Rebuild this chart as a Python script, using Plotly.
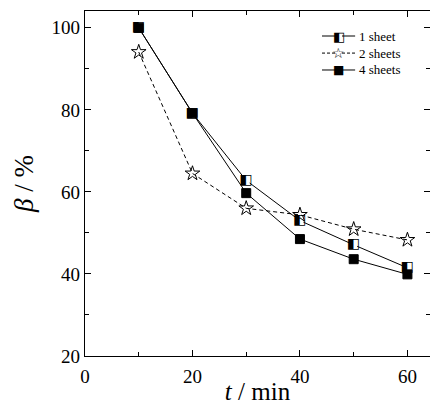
import plotly.graph_objects as go

# Time points (min) and retention beta (%) for each sheet count
t_min = [10, 20, 30, 40, 50, 60]
beta_1_sheet = [100, 79.2, 62.8, 53.0, 47.1, 41.5]
beta_2_sheets = [94.1, 64.5, 56.0, 54.4, 50.9, 48.3]
beta_4_sheets = [100, 79.2, 59.7, 48.5, 43.6, 39.9]

series_names = ["1 sheet", "2 sheets", "4 sheets"]
x_ticks = [0, 20, 40, 60]
y_ticks = [20, 40, 60, 80, 100]

FONT = "Liberation Serif, Times New Roman, serif"
GLYPH_FONT = "DejaVu Sans"
HALF_SQUARE = "\u25e7"   # square with left half black
STAR_OPEN = "\u2606"
SQUARE_FILLED = "\u25a0"

fig = go.Figure()

# 1 sheet: line plus white square base, half-black glyph drawn on top
fig.add_trace(go.Scatter(
    x=t_min, y=beta_1_sheet, name=series_names[0], mode="lines+markers",
    line=dict(color="black", width=1),
    marker=dict(symbol="square", size=7, color="white", line=dict(width=0)),
    showlegend=False,
))
fig.add_trace(go.Scatter(
    x=t_min, y=beta_1_sheet, mode="text", text=[HALF_SQUARE] * len(t_min),
    textposition="middle center",
    textfont=dict(family=GLYPH_FONT, size=14, color="black"),
    showlegend=False, hoverinfo="skip",
))
fig.add_trace(go.Scatter(
    x=t_min, y=beta_2_sheets, name=series_names[1], mode="lines+markers",
    line=dict(color="black", width=1, dash="4px,3px"),
    marker=dict(symbol="star-open", size=11, color="black",
                line=dict(color="black", width=1)),
    showlegend=False,
))
fig.add_trace(go.Scatter(
    x=t_min, y=beta_4_sheets, name=series_names[2], mode="lines+markers",
    line=dict(color="black", width=1),
    marker=dict(symbol="square", size=9, color="black",
                line=dict(color="black", width=1)),
    showlegend=False,
))

axis_common = dict(
    showline=True, linecolor="black", linewidth=1.2, mirror="ticks",
    ticks="inside", ticklen=6, tickwidth=1, tickcolor="black",
    showgrid=False, zeroline=False, automargin=False,
    tickfont=dict(family=FONT, size=19, color="black"),
)

fig.update_xaxes(
    range=[0, 64.2], tickvals=x_ticks,
    minor=dict(dtick=10, tick0=0, ticks="inside", ticklen=4, tickcolor="black"),
    title=dict(text="<i>t</i> / min", font=dict(family=FONT, size=25, color="black"),
               standoff=7),
    ticklabelstandoff=3,
    **axis_common,
)
fig.update_yaxes(
    range=[20, 104.1], tickvals=y_ticks,
    minor=dict(dtick=10, tick0=0, ticks="inside", ticklen=4, tickcolor="black"),
    title=dict(text="<i>β</i> / %", font=dict(family=FONT, size=27, color="black"),
               standoff=10),
    **axis_common,
)

# Legend key drawn in paper coordinates: sample line, symbol, label
legend_rows = [0.9275, 0.878, 0.829]
legend_dash = ["solid", "3px,2px", "solid"]
legend_glyph = [HALF_SQUARE, STAR_OPEN, SQUARE_FILLED]
legend_glyph_size = [13, 14, 12]
line_x0, line_x1, glyph_x, label_x = 0.687, 0.783, 0.735, 0.788

shapes = []
annotations = []
for row_y, dash, glyph, gsize, name in zip(legend_rows, legend_dash, legend_glyph,
                                          legend_glyph_size, series_names):
    shapes.append(dict(type="line", xref="paper", yref="paper",
                       x0=line_x0, x1=line_x1, y0=row_y, y1=row_y,
                       line=dict(color="black", width=1, dash=dash)))
    shapes.append(dict(type="rect", xref="paper", yref="paper",
                       x0=glyph_x - 0.01, x1=glyph_x + 0.01,
                       y0=row_y - 0.01, y1=row_y + 0.01,
                       fillcolor="white", line=dict(width=0)))
    annotations.append(dict(text=glyph, xref="paper", yref="paper",
                            x=glyph_x, y=row_y, xanchor="center", yanchor="middle",
                            showarrow=False,
                            font=dict(family=GLYPH_FONT, size=gsize, color="black")))
    annotations.append(dict(text=name, xref="paper", yref="paper",
                            x=label_x, y=row_y, xanchor="left", yanchor="middle",
                            showarrow=False,
                            font=dict(family=FONT, size=13, color="black")))

fig.update_layout(
    width=430, height=405,
    margin=dict(l=85, r=0, t=11, b=49),
    paper_bgcolor="white", plot_bgcolor="white",
    shapes=shapes, annotations=annotations,
    showlegend=False,
)

fig.write_html("out.html")
